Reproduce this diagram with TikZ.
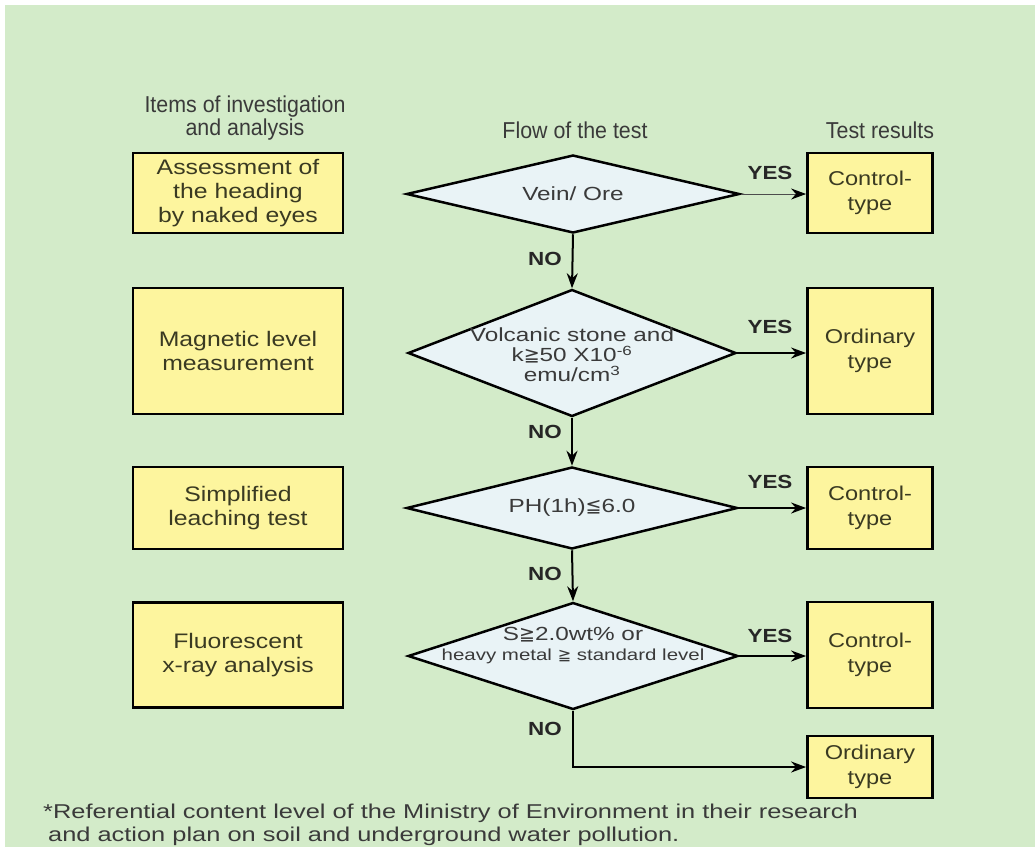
\documentclass[tikz,border=0pt]{standalone}
\usepackage{fontspec}
\setmainfont{Liberation Sans}[FakeStretch=1.18]
\newfontfamily\headf{Liberation Sans}[FakeStretch=0.93]
\newfontfamily\notef{Liberation Sans}[FakeStretch=1.27]
\newfontfamily\diaf{Liberation Sans}[FakeStretch=1.28]
\newfontfamily\symf{DejaVu Sans}
\usetikzlibrary{shapes.geometric,arrows.meta}
\definecolor{bg}{HTML}{D3EBC9}
\definecolor{boxy}{HTML}{FDF59E}
\definecolor{dia}{HTML}{E9F3F6}
\definecolor{txt}{HTML}{3A3A3A}
\definecolor{boxtxt}{HTML}{3A3A22}
\begin{document}
\begin{tikzpicture}[x=1pt,y=-1pt,
  lbox/.style={draw=black,line width=2.8pt,fill=boxy,rectangle,minimum width=210pt,
    inner sep=0pt,align=center,text=boxtxt,font=\fontsize{21}{24}\selectfont},
  rbox/.style={lbox,minimum width=125pt,font=\fontsize{20}{25}\selectfont},
  decision/.style={diamond,draw=black,line width=2.5pt,fill=dia,inner sep=0pt,aspect=3},
  dtext/.style={align=center,text=txt,inner sep=0pt,font=\diaf\fontsize{19}{20}\selectfont},
  head/.style={align=center,text=txt,inner sep=0pt,font=\headf\fontsize{23}{23}\selectfont},
  lab/.style={text=black!85,inner sep=0pt,font=\bfseries\fontsize{19}{21}\selectfont},
  arr/.style={line width=2pt,-{Stealth[length=15pt,width=11pt]}},
  thinarr/.style={line width=1pt,draw=black!70,-{Stealth[length=15pt,width=11pt,black]}},
  note/.style={anchor=west,text=txt,inner sep=0pt,font=\notef\fontsize{20}{22}\selectfont}]
\useasboundingbox (0,0) rectangle (1035,847);
\fill[white] (0,0) rectangle (1035,847);
\fill[bg] (5,5) rectangle (1035,847);

% headers
\node[head] (h1) at (245,118) {Items of investigation\\and analysis};
\node[head] (h2) at (575,130) {Flow of the test};
\node[head] (h3) at (880,130) {Test results};

% left boxes
\node[lbox,minimum height=80pt] (L1) at (238,193) {Assessment of\\the heading\\by naked eyes};
\node[lbox,minimum height=126pt] (L2) at (238,351) {Magnetic level\\measurement};
\node[lbox,minimum height=82pt] (L3) at (238,508) {Simplified\\leaching test};
\node[lbox,minimum height=105pt] (L4) at (238,655) {Fluorescent\\x-ray analysis};

% decisions
\node[decision,minimum width=333pt,minimum height=78pt] (D1) at (573,194) {};
\node[dtext] (D1t) at (D1) {Vein/ Ore};
\node[decision,minimum width=328pt,minimum height=127pt] (D2) at (572,353) {};
\node[dtext] (D2t) at (572,355) {Volcanic stone and\\k{\symf ≧}50 X10\textsuperscript{-6}\\emu/cm\textsuperscript{3}};
\node[decision,minimum width=331pt,minimum height=82pt] (D3) at (572,508) {};
\node[dtext] (D3t) at (D3) {PH(1h){\symf ≦}6.0};
\node[decision,minimum width=330pt,minimum height=107pt] (D4) at (573,656) {};
\node[dtext] (D4t) at (573,646) {S{\symf ≧}2.0wt\% or\\{\fontsize{16}{20}\selectfont heavy metal {\symf ≧} standard level}};

% right boxes
\node[rbox,minimum height=80pt] (R1) at (870,193) {Control-\\type};
\node[rbox,minimum height=126pt] (R2) at (870,351) {Ordinary\\type};
\node[rbox,minimum height=82pt] (R3) at (870,508) {Control-\\type};
\node[rbox,minimum height=106pt] (R4) at (870,655) {Control-\\type};
\node[rbox,minimum height=62pt] (R5) at (870,767) {Ordinary\\type};

% connectors
\draw[thinarr] (D1.east) -- (D1.east -| R1.west);
\draw[arr] (D2.east) -- (D2.east -| R2.west);
\draw[arr] (D3.east) -- (D3.east -| R3.west);
\draw[arr] (D4.east) -- (D4.east -| R4.west);
\draw[arr] (D1.south) -- (D2.north);
\draw[arr] (D2.south) -- (D3.north);
\draw[arr] (D3.south) -- (D4.north);
\draw[arr] (D4.south) |- (R5.west);

% labels
\node[lab] (y1) at (770,173) {YES};
\node[lab] (y2) at (770,327) {YES};
\node[lab] (y3) at (770,482) {YES};
\node[lab] (y4) at (770,636) {YES};
\node[lab] (n1) at (545,259) {NO};
\node[lab] (n2) at (545,432) {NO};
\node[lab] (n3) at (545,574) {NO};
\node[lab] (n4) at (545,729) {NO};

% footnote
\node[note] (f1) at (43,813) {*Referential content level of the Ministry of Environment in their research};
\node[note] (f2) at (48,836) {and action plan on soil and underground water pollution.};
\end{tikzpicture}
\end{document}
